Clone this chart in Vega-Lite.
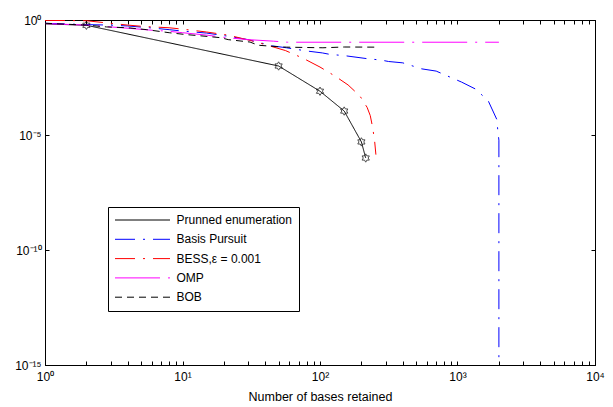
{
  "$schema": "https://vega.github.io/schema/vega-lite/v6.json",
  "width": 550,
  "height": 345,
  "autosize": {"type": "none"},
  "padding": {"left": 45, "top": 20, "right": 18, "bottom": 42},
  "background": "white",
  "config": {
    "font": "Liberation Sans",
    "view": {"stroke": "black", "strokeWidth": 1},
    "axis": {
      "grid": false,
      "domainColor": "black",
      "tickColor": "black",
      "labelColor": "black",
      "labelFont": "Liberation Sans",
      "labelFontSize": 12,
      "titleFont": "Liberation Sans",
      "titleFontSize": 12.5,
      "titleFontWeight": "normal",
      "titleColor": "black",
      "labelFlush": false,
      "labelOverlap": false,
      "labelBound": false
    },
    "legend": {
      "orient": "none",
      "legendX": 63,
      "legendY": 187,
      "strokeColor": "black",
      "fillColor": "white",
      "padding": 7,
      "symbolType": "M-5,0H5",
      "symbolSize": 121,
      "symbolOffset": 21.5,
      "labelOffset": 28,
      "symbolStrokeWidth": 1,
      "labelFont": "Liberation Sans",
      "labelFontSize": 12,
      "labelColor": "black",
      "rowPadding": 7.3
    }
  },
  "datasets": {
    "curves": [
      {"s": "Prunned enumeration", "i": 0, "x": 1, "y": 0.68, "m": 0},
      {"s": "Prunned enumeration", "i": 1, "x": 2, "y": 0.59, "m": 1},
      {"s": "Prunned enumeration", "i": 2, "x": 50, "y": 0.01, "m": 1},
      {"s": "Prunned enumeration", "i": 3, "x": 100, "y": 0.0008, "m": 1},
      {"s": "Prunned enumeration", "i": 4, "x": 150, "y": 0.00011, "m": 1},
      {"s": "Prunned enumeration", "i": 5, "x": 200, "y": 0.000005, "m": 1},
      {"s": "Prunned enumeration", "i": 6, "x": 215, "y": 0.000001, "m": 1},

      {"s": "Basis Pursuit", "i": 0, "x": 1, "y": 0.72},
      {"s": "Basis Pursuit", "i": 1, "x": 2, "y": 0.63},
      {"s": "Basis Pursuit", "i": 2, "x": 3, "y": 0.6},
      {"s": "Basis Pursuit", "i": 3, "x": 4, "y": 0.55},
      {"s": "Basis Pursuit", "i": 4, "x": 6, "y": 0.45},
      {"s": "Basis Pursuit", "i": 5, "x": 8, "y": 0.38},
      {"s": "Basis Pursuit", "i": 6, "x": 10, "y": 0.33},
      {"s": "Basis Pursuit", "i": 7, "x": 15, "y": 0.27},
      {"s": "Basis Pursuit", "i": 8, "x": 20, "y": 0.21},
      {"s": "Basis Pursuit", "i": 9, "x": 30, "y": 0.14},
      {"s": "Basis Pursuit", "i": 10, "x": 45, "y": 0.075},
      {"s": "Basis Pursuit", "i": 11, "x": 57, "y": 0.062},
      {"s": "Basis Pursuit", "i": 12, "x": 80, "y": 0.045},
      {"s": "Basis Pursuit", "i": 13, "x": 104, "y": 0.037},
      {"s": "Basis Pursuit", "i": 14, "x": 118, "y": 0.032},
      {"s": "Basis Pursuit", "i": 15, "x": 152, "y": 0.028},
      {"s": "Basis Pursuit", "i": 16, "x": 218, "y": 0.021},
      {"s": "Basis Pursuit", "i": 17, "x": 280, "y": 0.018},
      {"s": "Basis Pursuit", "i": 18, "x": 315, "y": 0.0157},
      {"s": "Basis Pursuit", "i": 19, "x": 400, "y": 0.0137},
      {"s": "Basis Pursuit", "i": 20, "x": 550, "y": 0.0075},
      {"s": "Basis Pursuit", "i": 21, "x": 700, "y": 0.006},
      {"s": "Basis Pursuit", "i": 22, "x": 1070, "y": 0.002},
      {"s": "Basis Pursuit", "i": 23, "x": 1350, "y": 0.001},
      {"s": "Basis Pursuit", "i": 24, "x": 1450, "y": 0.00068},
      {"s": "Basis Pursuit", "i": 25, "x": 1680, "y": 0.00029},
      {"s": "Basis Pursuit", "i": 26, "x": 1930, "y": 0.000048},
      {"s": "Basis Pursuit", "i": 27, "x": 1970, "y": 0.000013},
      {"s": "Basis Pursuit", "i": 28, "x": 2000, "y": 0.000006},
      {"s": "Basis Pursuit", "i": 29, "x": 2000, "y": 1e-10},
      {"s": "Basis Pursuit", "i": 30, "x": 2000, "y": 1e-15},

      {"s": "BESS,ε = 0.001", "i": 0, "x": 1, "y": 0.96},
      {"s": "BESS,ε = 0.001", "i": 1, "x": 2, "y": 0.93},
      {"s": "BESS,ε = 0.001", "i": 2, "x": 2.8, "y": 0.75},
      {"s": "BESS,ε = 0.001", "i": 3, "x": 4, "y": 0.6},
      {"s": "BESS,ε = 0.001", "i": 4, "x": 5.3, "y": 0.52},
      {"s": "BESS,ε = 0.001", "i": 5, "x": 8, "y": 0.46},
      {"s": "BESS,ε = 0.001", "i": 6, "x": 10.4, "y": 0.39},
      {"s": "BESS,ε = 0.001", "i": 7, "x": 15, "y": 0.3},
      {"s": "BESS,ε = 0.001", "i": 8, "x": 21.5, "y": 0.22},
      {"s": "BESS,ε = 0.001", "i": 9, "x": 31, "y": 0.13},
      {"s": "BESS,ε = 0.001", "i": 10, "x": 40, "y": 0.085},
      {"s": "BESS,ε = 0.001", "i": 11, "x": 56, "y": 0.047},
      {"s": "BESS,ε = 0.001", "i": 12, "x": 75, "y": 0.022},
      {"s": "BESS,ε = 0.001", "i": 13, "x": 100, "y": 0.009},
      {"s": "BESS,ε = 0.001", "i": 14, "x": 130, "y": 0.0035},
      {"s": "BESS,ε = 0.001", "i": 15, "x": 160, "y": 0.0015},
      {"s": "BESS,ε = 0.001", "i": 16, "x": 195, "y": 0.0005},
      {"s": "BESS,ε = 0.001", "i": 17, "x": 220, "y": 0.00016},
      {"s": "BESS,ε = 0.001", "i": 18, "x": 232, "y": 0.00007},
      {"s": "BESS,ε = 0.001", "i": 19, "x": 242, "y": 0.00002},
      {"s": "BESS,ε = 0.001", "i": 20, "x": 250, "y": 0.000005},
      {"s": "BESS,ε = 0.001", "i": 21, "x": 255, "y": 0.0000014},

      {"s": "OMP", "i": 0, "x": 1, "y": 0.7},
      {"s": "OMP", "i": 1, "x": 2, "y": 0.6},
      {"s": "OMP", "i": 2, "x": 3, "y": 0.5},
      {"s": "OMP", "i": 3, "x": 4.2, "y": 0.43},
      {"s": "OMP", "i": 4, "x": 6.3, "y": 0.35},
      {"s": "OMP", "i": 5, "x": 7.7, "y": 0.33},
      {"s": "OMP", "i": 6, "x": 10, "y": 0.28},
      {"s": "OMP", "i": 7, "x": 15, "y": 0.22},
      {"s": "OMP", "i": 8, "x": 21, "y": 0.17},
      {"s": "OMP", "i": 9, "x": 30, "y": 0.14},
      {"s": "OMP", "i": 10, "x": 46, "y": 0.12},
      {"s": "OMP", "i": 11, "x": 58, "y": 0.108},
      {"s": "OMP", "i": 12, "x": 2000, "y": 0.108},

      {"s": "BOB", "i": 0, "x": 1, "y": 0.72},
      {"s": "BOB", "i": 1, "x": 2, "y": 0.6},
      {"s": "BOB", "i": 2, "x": 2.8, "y": 0.5},
      {"s": "BOB", "i": 3, "x": 4, "y": 0.46},
      {"s": "BOB", "i": 4, "x": 5.5, "y": 0.38},
      {"s": "BOB", "i": 5, "x": 8, "y": 0.28},
      {"s": "BOB", "i": 6, "x": 10.8, "y": 0.23},
      {"s": "BOB", "i": 7, "x": 13, "y": 0.21},
      {"s": "BOB", "i": 8, "x": 19, "y": 0.17},
      {"s": "BOB", "i": 9, "x": 21.5, "y": 0.14},
      {"s": "BOB", "i": 10, "x": 31, "y": 0.11},
      {"s": "BOB", "i": 11, "x": 35.5, "y": 0.08},
      {"s": "BOB", "i": 12, "x": 51, "y": 0.068},
      {"s": "BOB", "i": 13, "x": 57, "y": 0.066},
      {"s": "BOB", "i": 14, "x": 105, "y": 0.062},
      {"s": "BOB", "i": 15, "x": 150, "y": 0.067},
      {"s": "BOB", "i": 16, "x": 250, "y": 0.066}
    ]
  },
  "layer": [
    {
      "data": {"name": "curves"},
      "mark": {"type": "line", "strokeWidth": 1, "clip": true},
      "encoding": {
        "x": {
          "field": "x", "type": "quantitative",
          "scale": {"type": "log", "domain": [1, 10000], "nice": false},
          "axis": {
            "orient": "bottom",
            "title": "Number of bases retained",
            "titlePadding": 8,
            "tickSize": -4,
            "labelPadding": 10,
            "values": [1,2,3,4,5,6,7,8,9,10,20,30,40,50,60,70,80,90,100,200,300,400,500,600,700,800,900,1000,2000,3000,4000,5000,6000,7000,8000,9000,10000],
            "labelExpr": "datum.value < 1.5 ? '10⁰' : (abs(datum.value - 10) < 0.5 ? '10¹' : (abs(datum.value - 100) < 0.5 ? '10²' : (abs(datum.value - 1000) < 0.5 ? '10³' : (abs(datum.value - 10000) < 0.5 ? '10⁴' : ''))))"
          }
        },
        "y": {
          "field": "y", "type": "quantitative",
          "scale": {"type": "log", "domain": [1e-15, 1], "nice": false},
          "axis": {
            "orient": "left",
            "title": null,
            "tickSize": -4,
            "labelPadding": 8,
            "values": [1e-15, 1e-10, 1e-5, 1],
            "labelExpr": "datum.value > 0.1 ? '10⁰' : (datum.value > 1e-7 ? '10⁻⁵' : (datum.value > 1e-12 ? '10⁻¹⁰' : '10⁻¹⁵'))"
          }
        },
        "order": {"field": "i", "type": "quantitative"},
        "color": {
          "field": "s", "type": "nominal",
          "scale": {
            "domain": ["Prunned enumeration", "Basis Pursuit", "BESS,ε = 0.001", "OMP", "BOB"],
            "range": ["#000000", "#0000ff", "#ff0000", "#ff00ff", "#000000"]
          },
          "legend": {
            "title": null,
            "encode": {
              "symbols": {
                "update": {
                  "stroke": {"scale": "color", "field": "value"},
                  "strokeDash": {"scale": "strokeDash", "field": "value"}
                }
              }
            }
          }
        },
        "strokeDash": {
          "field": "s", "type": "nominal",
          "scale": {
            "domain": ["Prunned enumeration", "Basis Pursuit", "BESS,ε = 0.001", "OMP", "BOB"],
            "range": [[1, 0], [20, 8, 2, 8], [20, 8, 2, 8], [45, 8, 2, 8], [7, 5]]
          },
          "legend": null
        }
      }
    },
    {
      "data": {"name": "curves"},
      "transform": [{"filter": "datum.m == 1"}],
      "mark": {
        "type": "point",
        "filled": false,
        "stroke": "black",
        "strokeWidth": 1,
        "size": 70,
        "shape": "M0,-1L0.289,-0.5L0.866,-0.5L0.577,0L0.866,0.5L0.289,0.5L0,1L-0.289,0.5L-0.866,0.5L-0.577,0L-0.866,-0.5L-0.289,-0.5Z"
      },
      "encoding": {
        "x": {
          "field": "x", "type": "quantitative",
          "axis": {
            "orient": "top", "title": null, "labels": false, "tickSize": -4,
            "values": [1,2,3,4,5,6,7,8,9,10,20,30,40,50,60,70,80,90,100,200,300,400,500,600,700,800,900,1000,2000,3000,4000,5000,6000,7000,8000,9000,10000]
          }
        },
        "y": {
          "field": "y", "type": "quantitative",
          "axis": {
            "orient": "right", "title": null, "labels": false, "tickSize": -4,
            "values": [1e-15, 1e-10, 1e-5, 1]
          }
        }
      }
    }
  ],
  "resolve": {"axis": {"x": "independent", "y": "independent"}}
}
